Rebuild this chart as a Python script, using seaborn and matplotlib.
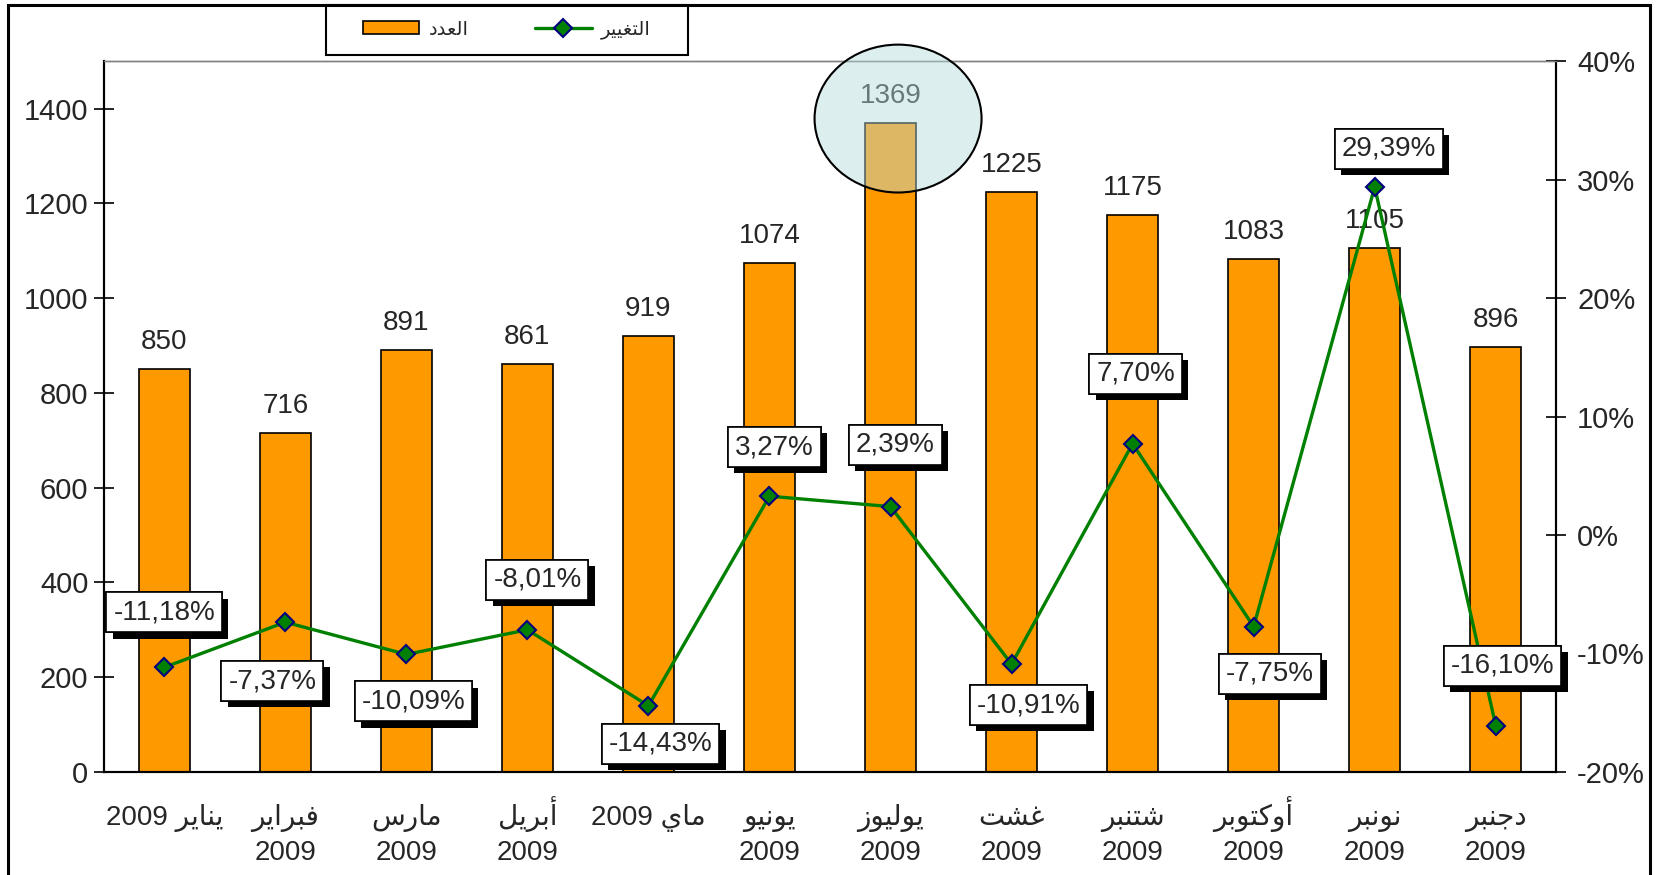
#----- configuration -----
import numpy as np
import pandas as pd
import matplotlib
matplotlib.use("Agg")
import matplotlib.pyplot as plt
import seaborn as sns
from matplotlib import patheffects
from matplotlib.patches import Rectangle, Ellipse, Patch
from matplotlib.lines import Line2D

sns.set_style("white")
plt.rcParams['font.family'] = ['Liberation Sans', 'DejaVu Sans']

#----- data -----
mois = ["يناير", "فبراير", "مارس", "أبريل", "ماي", "يونيو",
        "يوليوز", "غشت", "شتنبر", "أوكتوبر", "نونبر", "دجنبر"]
annee = "2009"
nombre = [850, 716, 891, 861, 919, 1074, 1369, 1225, 1175, 1083, 1105, 896]
taux = [-11.18, -7.37, -10.09, -8.01, -14.43, 3.27, 2.39, -10.91, 7.70, -7.75, 29.39, -16.10]
lbl_nombre = "العدد"
lbl_taux = "التغيير"

# label offsets (pixels) for the percentage boxes
decal = [(0, 55), (-13, -59), (7, -47), (10, 50), (12, -38), (5, 49),
         (5, 62), (17, -41), (3, 70), (16, -47), (14, 38), (7, 60)]

#----- arabic shaping (matplotlib draws left to right, no joining) -----
FORMES = {
    'ا': ('\uFE8D', '\uFE8E', None, None),
    'أ': ('\uFE83', '\uFE84', None, None),
    'ب': ('\uFE8F', '\uFE90', '\uFE91', '\uFE92'),
    'ت': ('\uFE95', '\uFE96', '\uFE97', '\uFE98'),
    'ج': ('\uFE9D', '\uFE9E', '\uFE9F', '\uFEA0'),
    'د': ('\uFEA9', '\uFEAA', None, None),
    'ر': ('\uFEAD', '\uFEAE', None, None),
    'ز': ('\uFEAF', '\uFEB0', None, None),
    'س': ('\uFEB1', '\uFEB2', '\uFEB3', '\uFEB4'),
    'ش': ('\uFEB5', '\uFEB6', '\uFEB7', '\uFEB8'),
    'ع': ('\uFEC9', '\uFECA', '\uFECB', '\uFECC'),
    'غ': ('\uFECD', '\uFECE', '\uFECF', '\uFED0'),
    'ف': ('\uFED1', '\uFED2', '\uFED3', '\uFED4'),
    'ك': ('\uFED9', '\uFEDA', '\uFEDB', '\uFEDC'),
    'ل': ('\uFEDD', '\uFEDE', '\uFEDF', '\uFEE0'),
    'م': ('\uFEE1', '\uFEE2', '\uFEE3', '\uFEE4'),
    'ن': ('\uFEE5', '\uFEE6', '\uFEE7', '\uFEE8'),
    'و': ('\uFEED', '\uFEEE', None, None),
    'ي': ('\uFEF1', '\uFEF2', '\uFEF3', '\uFEF4'),
}


def arabe(mot):
    out = []
    for i, c in enumerate(mot):
        f = FORMES.get(c)
        if f is None:
            out.append(c)
            continue
        prev = mot[i - 1] if i > 0 else None
        nxt = mot[i + 1] if i + 1 < len(mot) else None
        avant = prev in FORMES and FORMES[prev][2] is not None
        apres = f[2] is not None and nxt in FORMES
        if avant and apres:
            out.append(f[3])
        elif avant:
            out.append(f[1])
        elif apres:
            out.append(f[2])
        else:
            out.append(f[0])
    return ''.join(reversed(out))


df = pd.DataFrame({"mois": mois, "nombre": nombre, "taux": taux})
df["pos"] = np.arange(len(df))

#----- figure -----
fig = plt.figure(figsize=(16.6, 8.75), dpi=100)
ax = fig.add_axes([0.0625, 0.118, 0.9375 - 0.0625, 0.930 - 0.118])

sns.barplot(data=df, x="mois", y="nombre", ax=ax, color="#ff9900", saturation=1,
            width=0.42, edgecolor="black", linewidth=1.2)
ax.set_xlim(-0.5, 11.5)
ax.set_ylim(0, 1500)
ax.set_yticks(np.arange(0, 1401, 200))
ax.set_xlabel("")
ax.set_ylabel("")

for i, v in enumerate(nombre):
    ax.annotate(str(v), (i, v), xytext=(0, 14), textcoords="offset pixels",
                ha="center", va="bottom", fontsize=20)

ax2 = ax.twinx()
sns.lineplot(data=df, x="pos", y="taux", ax=ax2, color="#008000", linewidth=2.4,
             marker="D", markersize=9.5, markerfacecolor="#008000",
             markeredgecolor="#000080", markeredgewidth=1.5, zorder=3)
ax2.set_ylim(-20, 40)
ax2.set_yticks(np.arange(-20, 41, 10))
ax2.set_yticklabels([f"{int(t)}%" for t in np.arange(-20, 41, 10)])
ax2.set_xlim(-0.5, 11.5)
ax2.set_ylabel("")

for i, v in enumerate(taux):
    txt = f"{v:.2f}".replace(".", ",") + "%"
    a = ax2.annotate(txt, (i, v), xytext=decal[i], textcoords="offset pixels",
                     ha="center", va="center", fontsize=20, zorder=5,
                     bbox=dict(boxstyle="square,pad=0.25", fc="white", ec="black", lw=1.2))
    a.get_bbox_patch().set_path_effects([
        patheffects.withSimplePatchShadow(offset=(4.5, -4.5), shadow_rgbFace="black", alpha=1.0),
        patheffects.Normal()])

# x axis: ticks between categories, month and year written under each bar
ax.set_xticks(np.arange(13) - 0.5)
ax.set_xticklabels([])
ax.tick_params(axis="x", which="major", direction="inout", length=14, width=1.2, color="black")
for i, m in enumerate(mois):
    if i in (0, 4):
        ax.annotate(annee + " " + arabe(m), (i, 0), xycoords=("data", "axes fraction"),
                    xytext=(0, -53), textcoords="offset pixels", ha="center", va="baseline",
                    fontsize=20, annotation_clip=False)
    else:
        ax.annotate(arabe(m), (i, 0), xycoords=("data", "axes fraction"),
                    xytext=(0, -53), textcoords="offset pixels", ha="center", va="baseline",
                    fontsize=20, annotation_clip=False)
        ax.annotate(annee, (i, 0), xycoords=("data", "axes fraction"),
                    xytext=(0, -88), textcoords="offset pixels", ha="center", va="baseline",
                    fontsize=20, annotation_clip=False)

ax.tick_params(axis="y", direction="inout", length=14, width=1.2, labelsize=21, pad=4, color="black", left=True)
ax2.tick_params(axis="y", direction="inout", length=14, width=1.2, labelsize=21, pad=8, color="black", right=True)

for a_ in (ax, ax2):
    a_.spines["left"].set_color("black")
    a_.spines["bottom"].set_color("black")
    a_.spines["right"].set_color("black")
    a_.spines["top"].set_color("#808080")
    a_.spines["left"].set_linewidth(1.5)
    a_.spines["bottom"].set_linewidth(1.5)
    a_.spines["right"].set_linewidth(1.5)
    a_.spines["top"].set_linewidth(1.0)

# legend (frame drawn separately)
poignees = [Patch(fc="#ff9900", ec="black", lw=1.2),
            Line2D([], [], color="#008000", lw=2.4, marker="D", ms=9,
                   mfc="#008000", mec="#000080", mew=1.5)]
fig.legend(poignees, [arabe(lbl_nombre), arabe(lbl_taux)], loc="center",
           bbox_to_anchor=(507 / 1660, 1 - 30 / 875), bbox_transform=fig.transFigure,
           ncol=2, fontsize=14, handlelength=2.9, handleheight=0.65,
           handletextpad=0.5, columnspacing=3.4, frameon=False)
fig.add_artist(Rectangle((326 / 1660, 1 - 55 / 875), (688 - 326) / 1660, 50 / 875,
                         transform=fig.transFigure, fill=False, ec="black", lw=1.5))

# highlight around the July peak
fig.add_artist(Ellipse((0.541, 0.8645), 0.1006, 0.169, transform=fig.transFigure,
                       fc=(181 / 255, 220 / 255, 220 / 255, 0.46), ec="black", lw=1.5))

# outer frame
fig.add_artist(Rectangle((8 / 1660, -0.02), (1650 - 8) / 1660, 1 - 5 / 875 + 0.02,
                         transform=fig.transFigure, fill=False, ec="black", lw=2.2))

fig.savefig("out.png", dpi=100)
